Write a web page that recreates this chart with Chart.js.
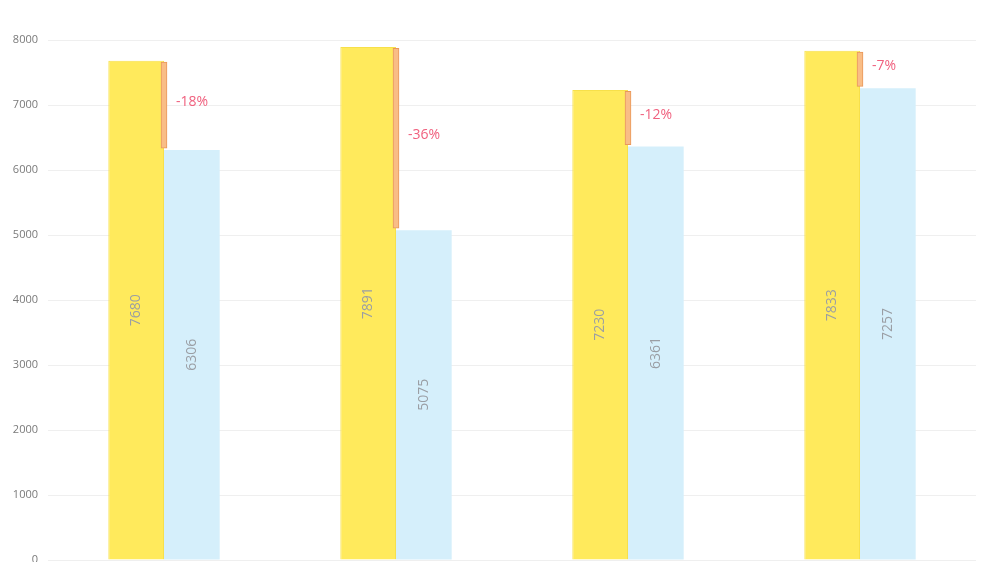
<!DOCTYPE html>
<html>
<head>
<meta charset="utf-8">
<script src="https://cdn.jsdelivr.net/npm/chart.js@4/dist/chart.umd.min.js"></script>
<style>
  html, body { margin: 0; padding: 0; background: #fff; overflow: hidden; }
  #wrap { width: 994px; height: 600px; position: relative; }
</style>
</head>
<body>
<div id="wrap"><canvas id="graphique"></canvas></div>
<script>
// ---- Données ----
const categories = ['A', 'B', 'C', 'D']
const avant = [7680, 7891, 7230, 7833]
const apres = [6306, 5075, 6361, 7257]
const ecarts = ['-18%', '-36%', '-12%', '-7%']
const yTicks = [0, 1000, 2000, 3000, 4000, 5000, 6000, 7000, 8000]

const POLICE = '"Open Sans", "DejaVu Sans", sans-serif'

// barres flottantes orange entre les deux valeurs
const ecartBarres = categories.map((c, i) => [apres[i] + 30, avant[i] - 20])

// ---- Plugin : étiquettes ----
const etiquettes = {
  id: 'etiquettes',
  afterDatasetsDraw(chart) {
    const ctx = chart.ctx
    ctx.save()
    // valeurs verticales dans les barres
    ;[0, 1].forEach(d => {
      const meta = chart.getDatasetMeta(d)
      meta.data.forEach((bar, i) => {
        const { x, y, base } = bar.getProps(['x', 'y', 'base'], true)
        ctx.save()
        ctx.translate(x, (y + base) / 2)
        ctx.rotate(-Math.PI / 2)
        ctx.fillStyle = '#9a9ea4'
        ctx.font = '14px ' + POLICE
        ctx.textAlign = 'center'
        ctx.textBaseline = 'middle'
        ctx.fillText(String(chart.data.datasets[d].data[i]), 0, 0)
        ctx.restore()
      })
    })
    // pourcentages à droite des barres orange
    const meta = chart.getDatasetMeta(2)
    meta.data.forEach((bar, i) => {
      const { x, y, base, width } = bar.getProps(['x', 'y', 'base', 'width'], true)
      ctx.fillStyle = '#f0607e'
      ctx.font = '14px ' + POLICE
      ctx.textAlign = 'left'
      ctx.textBaseline = 'middle'
      ctx.fillText(ecarts[i], x + width / 2 + 9, (y + base) / 2 - 3)
    })
    ctx.restore()
  }
}

new Chart(document.getElementById('graphique'), {
  type: 'bar',
  data: {
    labels: categories,
    datasets: [
      {
        label: 'Avant',
        data: avant,
        backgroundColor: '#ffea5c',
        borderColor: '#f7e04a',
        borderWidth: 1,
        barPercentage: 1,
        categoryPercentage: 0.48,
        order: 2
      },
      {
        label: 'Après',
        data: apres,
        backgroundColor: '#d5effb',
        borderWidth: 0,
        barPercentage: 1,
        categoryPercentage: 0.48,
        order: 2
      },
      {
        label: 'Écart',
        data: ecartBarres,
        backgroundColor: '#f9bd86',
        borderColor: '#e9975a',
        borderWidth: 1,
        borderSkipped: false,
        grouped: false,
        barThickness: 6,
        order: 1
      }
    ]
  },
  options: {
    responsive: true,
    maintainAspectRatio: false,
    animation: false,
    layout: { padding: { top: 40, bottom: 40, left: 0, right: 18 } },
    plugins: {
      legend: { display: false },
      tooltip: { enabled: false }
    },
    scales: {
      x: {
        display: false,
        offset: true,
        grid: { display: false }
      },
      y: {
        min: 0,
        max: 8000,
        afterFit(axis) { axis.width = 48 },
        afterBuildTicks(axis) { axis.ticks = yTicks.map(v => ({ value: v })) },
        border: { display: false },
        grid: { color: '#efefef', drawTicks: false, lineWidth: 1 },
        ticks: {
          color: '#7a7a7a',
          padding: 10,
          font: { family: POLICE, size: 11 },
          callback: v => String(v)
        }
      }
    }
  },
  plugins: [etiquettes]
})
</script>
</body>
</html>
